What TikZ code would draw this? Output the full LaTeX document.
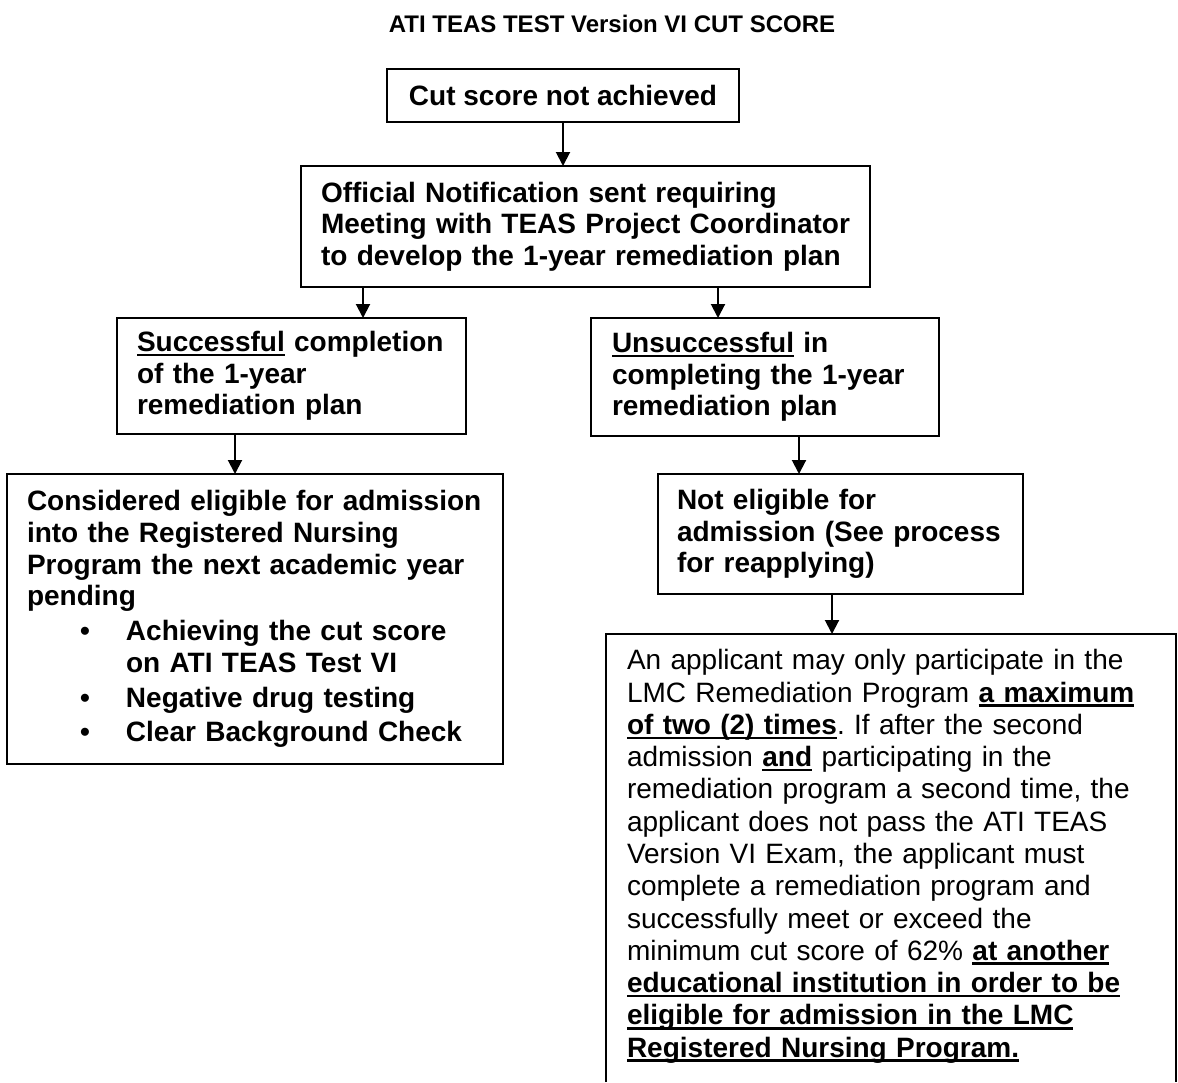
\documentclass[tikz,border=0pt]{standalone}
\usepackage{fontspec}
\setmainfont{Liberation Sans}
\usepackage{xcolor}
\usepackage{tikz}
\usetikzlibrary{arrows.meta}
\frenchspacing

\newcommand{\undl}[1]{\leavevmode\setbox0=\hbox{#1}\rlap{\rule[-3.6pt]{\wd0}{2pt}}\box0\relax}

\begin{document}
\begin{tikzpicture}[x=0.75pt, y=-0.75pt,
    flowbox/.style={draw, line width=1.6pt, outer sep=0pt, inner ysep=0pt, align=left,
      font=\fontsize{21}{23.8}\selectfont\bfseries},
    arr/.style={-{Triangle[length=10.5pt, width=10.5pt]}, line width=1.5pt}]
            \path[use as bounding box, fill=white] (0,0) rectangle (1178,1082);
            \coordinate (pagebottom) at (0,1082);
            \node[font=\fontsize{18}{20}\selectfont\bfseries, anchor=base] (title) at (612,32) {ATI TEAS TEST Version VI CUT SCORE};
            \node[flowbox, inner xsep=0pt, minimum width=264pt, minimum height=39.75pt] (cut) at (563,95.5) {Cut score not achieved};
            \node[flowbox, anchor=north west, inner xsep=15pt, text width=396.75pt, minimum height=90.75pt] (notif) at (301,166)
              {Official Notification sent requiring\\ Meeting with TEAS Project Coordinator\\ to develop the 1-year remediation plan};
            \node[flowbox, anchor=north west, inner xsep=15pt, text width=231.75pt, minimum height=87pt] (succ) at (117,318)
              {\undl{Successful} completion\\ of the 1-year\\ remediation plan};
            \node[flowbox, anchor=north west, inner xsep=15.75pt, text width=229.5pt, minimum height=88.5pt] (fail) at (591,318)
              {\undl{Unsuccessful} in\\ completing the 1-year\\ remediation plan};
            \node[flowbox, anchor=north west, inner xsep=15pt, text width=342pt, minimum height=217.5pt] (elig) at (7,474)
              {Considered eligible for admission\\ into the Registered Nursing\\ Program the next academic year\\ pending\\[2.25pt]
               \hspace*{39.75pt}\makebox[34.5pt][l]{\textbullet}Achieving the cut score\\
               \hspace*{74.25pt}on ATI TEAS Test VI\\[2.25pt]
               \hspace*{39.75pt}\makebox[34.5pt][l]{\textbullet}Negative drug testing\\[2.25pt]
               \hspace*{39.75pt}\makebox[34.5pt][l]{\textbullet}Clear Background Check};
            \node[flowbox, anchor=north west, inner xsep=14.25pt, text width=245.25pt, minimum height=90pt] (noelig) at (658,474)
              {Not eligible for\\ admission (See process\\ for reapplying)};
            \node[flowbox, draw=none, anchor=north west, inner xsep=15.75pt, inner ysep=11.7pt, text width=396pt,
              font=\fontsize{21}{24.2}\selectfont] (rules) at (606,634)
              {An applicant may only participate in the\\
               LMC Remediation Program \undl{\bfseries a maximum}\\
               \undl{\bfseries of two (2) times}. If after the second\\
               admission \undl{\bfseries and} participating in the\\
               remediation program a second time, the\\
               applicant does not pass the ATI TEAS\\
               Version VI Exam, the applicant must\\
               complete a remediation program and\\
               successfully meet or exceed the\\
               minimum cut score of 62\% \undl{\bfseries at another}\\
               \undl{\bfseries educational institution in order to be}\\
               \undl{\bfseries eligible for admission in the LMC}\\
               \undl{\bfseries Registered Nursing Program.}};
            \draw[line width=1.6pt] (rules.north west |- pagebottom) -- (rules.north west) -- (rules.north east) -- (rules.north east |- pagebottom);
            \coordinate (a2) at ([xshift=46.5pt]notif.south west);
            \coordinate (a3) at ([xshift=-114pt]notif.south east);
            \coordinate (a4) at ([xshift=88.5pt]succ.south west);
            \coordinate (a5) at ([xshift=156pt]fail.south west);
            \coordinate (a6) at ([xshift=130.5pt]noelig.south west);
            \draw[arr] (cut.south) -- (cut.south |- notif.north);
            \draw[arr] (a2) -- (a2 |- succ.north);
            \draw[arr] (a3) -- (a3 |- fail.north);
            \draw[arr] (a4) -- (a4 |- elig.north);
            \draw[arr] (a5) -- (a5 |- noelig.north);
            \draw[arr] (a6) -- (a6 |- rules.north);
          \end{tikzpicture}
\end{document}
